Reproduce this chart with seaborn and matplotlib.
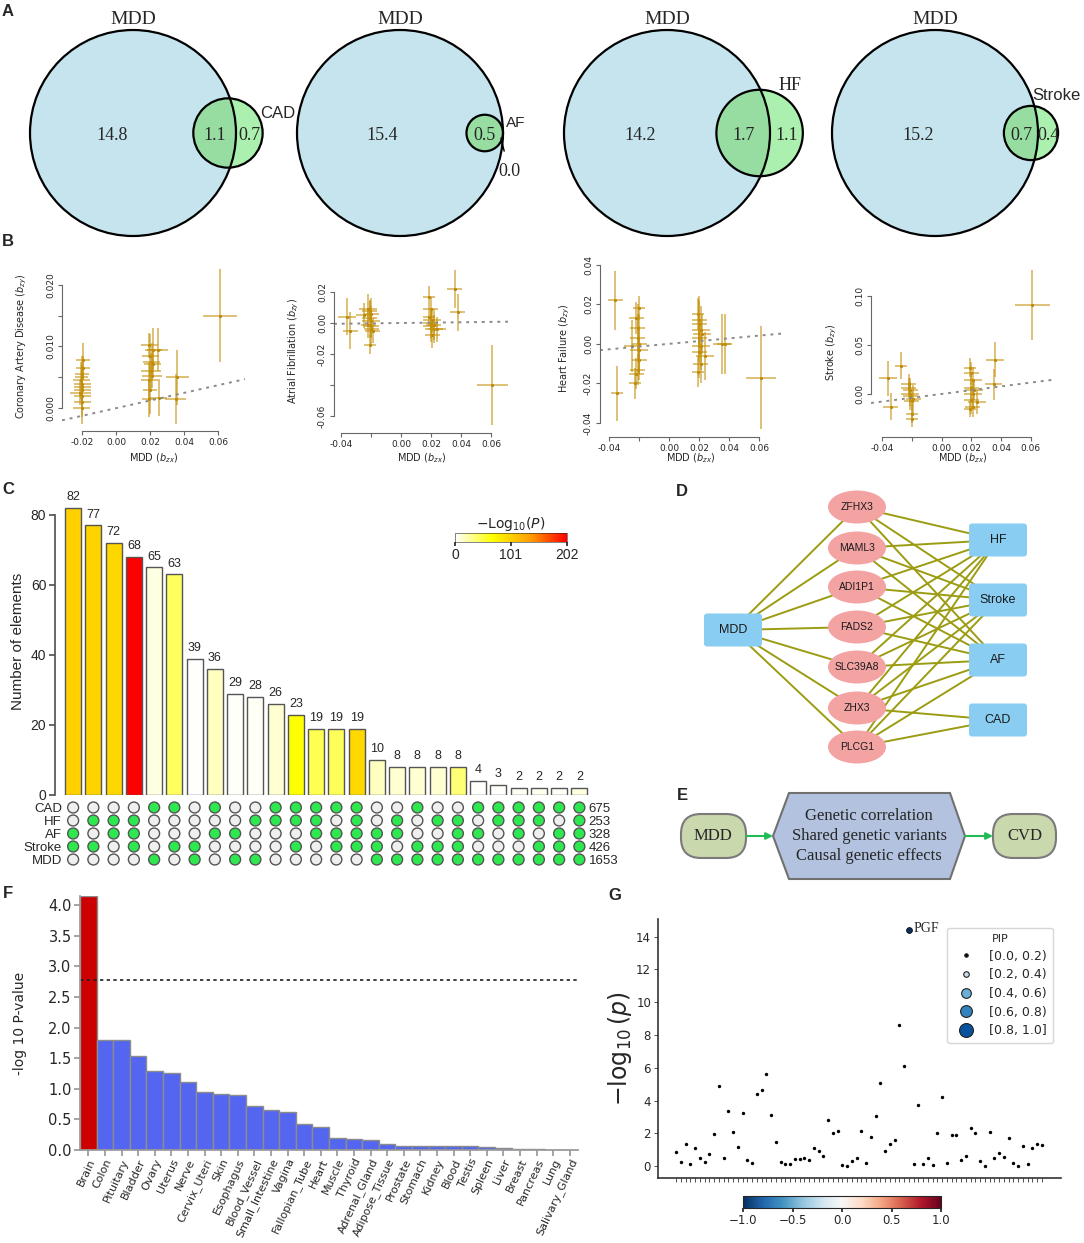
import numpy as np
import pandas as pd
import matplotlib
matplotlib.use('Agg')
import matplotlib as mpl
import matplotlib.pyplot as plt
import seaborn as sns
from matplotlib.patches import Circle, Ellipse, FancyBboxPatch, Polygon
from matplotlib.lines import Line2D
from matplotlib.colors import LinearSegmentedColormap, Normalize

# ---------------- data ----------------
# A: Venn region sizes
venn_other = ['CAD', 'AF', 'HF', 'Stroke']
venn_mdd_only = [14.8, 15.4, 14.2, 15.2]
venn_shared = [1.1, 0.5, 1.7, 0.7]
venn_other_only = [0.7, 0.0, 1.1, 0.4]

# B: MR instruments, columns bzx, bzy, se_x, se_y
mr_cad = [
    [-0.0205, 0.0045, 0.005, 0.0030], [-0.0200, 0.0040, 0.005, 0.0025],
    [-0.0195, 0.0078, 0.004, 0.0028], [-0.0210, 0.0025, 0.006, 0.0020],
    [-0.0200, 0.0055, 0.004, 0.0030], [-0.0200, 0.0010, 0.005, 0.0025],
    [-0.0198, 0.0030, 0.005, 0.0020], [-0.0200, 0.0020, 0.005, 0.0020],
    [-0.0203, 0.0050, 0.004, 0.0020], [-0.0200, 0.0035, 0.005, 0.0025],
    [-0.0196, 0.0065, 0.004, 0.0020], [-0.0202, 0.0000, 0.005, 0.0025],
    [0.0195, 0.0102, 0.005, 0.0020], [0.0200, 0.0085, 0.005, 0.0035],
    [0.0210, 0.0075, 0.005, 0.0030], [0.0205, 0.0060, 0.006, 0.0030],
    [0.0195, 0.0045, 0.005, 0.0030], [0.0200, 0.0030, 0.004, 0.0040],
    [0.0195, 0.0015, 0.004, 0.0030], [0.0220, 0.0095, 0.005, 0.0035],
    [0.0215, 0.0072, 0.005, 0.0020], [0.0250, 0.0017, 0.005, 0.0030],
    [0.0245, 0.0095, 0.006, 0.0035], [0.0210, 0.0052, 0.006, 0.0020],
    [0.0360, 0.0050, 0.0068, 0.0045], [0.0350, 0.0015, 0.0060, 0.0040],
    [0.0610, 0.0150, 0.0100, 0.0075],
]
mr_af = [
    [-0.0360, 0.0040, 0.006, 0.012], [-0.0340, -0.0050, 0.005, 0.012],
    [-0.0250, 0.0050, 0.005, 0.008], [-0.0220, 0.0090, 0.006, 0.010],
    [-0.0210, 0.0030, 0.005, 0.012], [-0.0200, -0.0020, 0.005, 0.008],
    [-0.0210, 0.0080, 0.005, 0.006], [-0.0200, -0.0040, 0.005, 0.010],
    [-0.0210, -0.0140, 0.004, 0.006], [-0.0200, 0.0010, 0.006, 0.010],
    [-0.0190, -0.0050, 0.005, 0.008], [-0.0220, -0.0010, 0.005, 0.009],
    [-0.0200, 0.0060, 0.005, 0.010],
    [0.0190, 0.0170, 0.004, 0.007], [0.0200, 0.0090, 0.005, 0.008],
    [0.0210, 0.0020, 0.006, 0.008], [0.0200, -0.0020, 0.005, 0.010],
    [0.0220, -0.0040, 0.006, 0.009], [0.0200, 0.0000, 0.005, 0.010],
    [0.0210, -0.0080, 0.005, 0.008], [0.0240, -0.0040, 0.006, 0.008],
    [0.0220, -0.0010, 0.005, 0.010], [0.0190, 0.0040, 0.004, 0.006],
    [0.0360, 0.0220, 0.005, 0.012], [0.0380, 0.0070, 0.005, 0.012],
    [0.0610, -0.0400, 0.0105, 0.026],
]
mr_hf = [
    [-0.0360, 0.0220, 0.005, 0.015], [-0.0350, -0.0250, 0.004, 0.014],
    [-0.0250, -0.0010, 0.005, 0.013], [-0.0230, -0.0200, 0.004, 0.008],
    [-0.0220, 0.0130, 0.005, 0.008], [-0.0210, 0.0080, 0.005, 0.012],
    [-0.0210, 0.0030, 0.005, 0.012], [-0.0200, -0.0030, 0.006, 0.012],
    [-0.0200, -0.0080, 0.005, 0.010], [-0.0210, -0.0130, 0.005, 0.008],
    [-0.0200, 0.0000, 0.005, 0.015], [-0.0220, -0.0150, 0.005, 0.008],
    [-0.0200, 0.0180, 0.004, 0.006],
    [0.0190, 0.0150, 0.004, 0.008], [0.0200, 0.0100, 0.005, 0.012],
    [0.0210, 0.0070, 0.006, 0.012], [0.0200, 0.0030, 0.005, 0.012],
    [0.0210, -0.0010, 0.006, 0.012], [0.0200, -0.0040, 0.005, 0.013],
    [0.0210, -0.0100, 0.005, 0.010], [0.0240, -0.0060, 0.006, 0.012],
    [0.0220, 0.0050, 0.006, 0.010], [0.0190, -0.0140, 0.004, 0.008],
    [0.0200, 0.0120, 0.005, 0.012],
    [0.0350, 0.0000, 0.006, 0.015], [0.0370, 0.0000, 0.005, 0.015],
    [0.0610, -0.0170, 0.0100, 0.026],
]
mr_stroke = [
    [-0.0360, 0.0160, 0.006, 0.018], [-0.0340, -0.0130, 0.005, 0.014],
    [-0.0270, 0.0290, 0.004, 0.014], [-0.0220, 0.0100, 0.005, 0.010],
    [-0.0210, 0.0040, 0.005, 0.012], [-0.0210, -0.0020, 0.005, 0.014],
    [-0.0200, -0.0070, 0.005, 0.010], [-0.0200, -0.0200, 0.004, 0.010],
    [-0.0200, -0.0260, 0.004, 0.008], [-0.0210, 0.0000, 0.006, 0.012],
    [-0.0190, -0.0050, 0.005, 0.014], [-0.0220, 0.0060, 0.005, 0.010],
    [0.0190, 0.0270, 0.004, 0.010], [0.0200, 0.0210, 0.005, 0.012],
    [0.0210, 0.0140, 0.006, 0.014], [0.0200, 0.0060, 0.005, 0.014],
    [0.0210, 0.0000, 0.006, 0.014], [0.0200, -0.0060, 0.005, 0.014],
    [0.0210, -0.0130, 0.005, 0.010], [0.0240, -0.0080, 0.006, 0.012],
    [0.0220, 0.0040, 0.006, 0.010], [0.0190, -0.0150, 0.004, 0.008],
    [0.0360, 0.0350, 0.006, 0.018], [0.0350, 0.0100, 0.006, 0.016],
    [0.0610, 0.0910, 0.0118, 0.036],
]
mr_ivw_slope = [0.062, 0.012, 0.069, 0.194]
mr_outcomes = ['Coronary Artery Disease', 'Atrial Fibrillation', 'Heart Failure', 'Stroke']

# C: UpSet intersections
upset_counts = [82, 77, 72, 68, 65, 63, 39, 36, 29, 28, 26, 23, 19, 19, 19,
                10, 8, 8, 8, 8, 4, 3, 2, 2, 2, 2]
upset_logp = [100, 98, 96, 202, 8, 42, 1, 17, 2, 3, 12, 67, 46, 44, 95,
              17, 12, 12, 12, 37, 1, 1, 3, 4, 3, 8]
upset_sets = ['CAD', 'HF', 'AF', 'Stroke', 'MDD']
upset_set_sizes = [675, 253, 328, 426, 1653]
upset_members = ['00001101001111100100111111',
                 '01110000011110101011011101',
                 '10110001100011111001101011',
                 '11010110000101110111000111',
                 '00001010110000011111111111']

# D: network
net_genes = ['ZFHX3', 'MAML3', 'ADI1P1', 'FADS2', 'SLC39A8', 'ZHX3', 'PLCG1']
net_traits = ['HF', 'Stroke', 'AF', 'CAD']
net_links = [('ZFHX3', 'HF'), ('ZFHX3', 'Stroke'), ('ZFHX3', 'AF'),
             ('MAML3', 'HF'), ('MAML3', 'Stroke'), ('MAML3', 'AF'),
             ('ADI1P1', 'HF'), ('ADI1P1', 'Stroke'), ('ADI1P1', 'AF'),
             ('FADS2', 'HF'), ('FADS2', 'Stroke'), ('FADS2', 'AF'),
             ('SLC39A8', 'HF'), ('SLC39A8', 'Stroke'), ('SLC39A8', 'AF'),
             ('ZHX3', 'HF'), ('ZHX3', 'Stroke'), ('ZHX3', 'AF'), ('ZHX3', 'CAD'),
             ('PLCG1', 'HF'), ('PLCG1', 'Stroke'), ('PLCG1', 'AF'), ('PLCG1', 'CAD')]

# E: flow text
flow_steps = ['Genetic correlation', 'Shared genetic variants', 'Causal genetic effects']

# F: tissue enrichment
f_tissues = ['Brain', 'Colon', 'Pituitary', 'Bladder', 'Ovary', 'Uterus', 'Nerve',
             'Cervix_Uteri', 'Skin', 'Esophagus', 'Blood_Vessel', 'Small_Intestine',
             'Vagina', 'Fallopian_Tube', 'Heart', 'Muscle', 'Thyroid', 'Adrenal_Gland',
             'Adipose_Tissue', 'Prostate', 'Stomach', 'Kidney', 'Blood', 'Testis',
             'Spleen', 'Liver', 'Breast', 'Pancreas', 'Lung', 'Salivary_Gland']
f_logp = [4.15, 1.80, 1.80, 1.53, 1.29, 1.26, 1.11, 0.95, 0.92, 0.90, 0.72, 0.65,
          0.62, 0.43, 0.37, 0.20, 0.18, 0.16, 0.10, 0.07, 0.06, 0.06, 0.06, 0.06,
          0.05, 0.03, 0.02, 0.01, 0.005, 0.003]
f_threshold = 2.78

# G: fine-mapping
g_logp = [0.83, 0.22, 1.34, 0.12, 1.10, 0.51, 0.26, 0.73, 1.93, 4.91, 0.47, 3.34,
          2.10, 1.14, 3.24, 0.35, 0.20, 4.42, 4.62, 5.62, 3.10, 1.45, 0.22, 0.14,
          0.12, 0.43, 0.43, 0.47, 0.37, 1.10, 0.94, 0.61, 2.83, 2.00, 2.16, 0.04,
          0.00, 0.33, 0.47, 2.14, 0.18, 1.79, 3.08, 5.09, 0.94, 1.34, 1.57, 8.64,
          6.13, 14.42, 0.10, 3.73, 0.14, 0.49, 0.08, 2.00, 4.22, 0.20, 1.87, 1.87,
          0.35, 0.61, 2.30, 2.04, 0.31, 0.02, 2.06, 0.49, 0.81, 0.53, 1.69, 0.16,
          0.02, 1.22, 0.10, 1.12, 1.32, 1.30]
g_top_gene = 'PGF'
pip_bins = ['[0.0, 0.2)', '[0.2, 0.4)', '[0.4, 0.6)', '[0.6, 0.8)', '[0.8, 1.0]']

# ---------------- figure ----------------
sns.set_theme(style='white')
plt.rcParams['font.family'] = ['DejaVu Sans']
SANS = 'Liberation Sans'
SERIF = 'Liberation Serif'

W, H = 1084, 1243
fig = plt.figure(figsize=(W / 100, H / 100), dpi=100)


def px_axes(l, t, r, b):
    return fig.add_axes([l / W, 1 - b / H, (r - l) / W, (b - t) / H])


def lens_area(r1, r2, d):
    if d >= r1 + r2:
        return 0.0
    if d <= abs(r1 - r2):
        return np.pi * min(r1, r2) ** 2
    a1 = r1 ** 2 * np.arccos((d * d + r1 * r1 - r2 * r2) / (2 * d * r1))
    a2 = r2 ** 2 * np.arccos((d * d + r2 * r2 - r1 * r1) / (2 * d * r2))
    a3 = 0.5 * np.sqrt((-d + r1 + r2) * (d + r1 - r2) * (d - r1 + r2) * (d + r1 + r2))
    return a1 + a2 - a3


# panel letters
for lab, x, y in [('A', 8, 12), ('B', 8, 242), ('C', 8, 490), ('D', 682, 492),
                  ('E', 682, 795), ('F', 8, 893), ('G', 615, 895)]:
    fig.text(x / W, 1 - y / H, lab, fontsize=12, fontweight='bold', family=SANS,
             ha='center', va='center')

# ---- A: Venn diagrams ----
axA = px_axes(0, 0, W, 238)
axA.set_xlim(0, W)
axA.set_ylim(238, 0)
axA.axis('off')
k = 103 / np.sqrt(venn_mdd_only[0] + venn_shared[0])
big_cx = [133, 400, 667, 935]
cy = 133
set_lab = [(50, -20, SANS, 12), (31, -10, SANS, 11), (30, -48, SERIF, 13), (25, -38, SANS, 12)]
for i, name in enumerate(venn_other):
    r1 = k * np.sqrt(venn_mdd_only[i] + venn_shared[i])
    r2 = k * np.sqrt(venn_other_only[i] + venn_shared[i])
    target = np.pi * k ** 2 * venn_shared[i]
    lo, hi = 0.0, r1 + r2
    for _ in range(60):
        mid = 0.5 * (lo + hi)
        if lens_area(r1, r2, mid) >= target - 1e-9:
            lo = mid
        else:
            hi = mid
    c1 = (big_cx[i], cy)
    c2 = (big_cx[i] + lo, cy)
    big = Circle(c1, r1, fc='#c6e4ee', ec='none')
    axA.add_patch(big)
    axA.add_patch(Circle(c2, r2, fc='#abf0ae', ec='none'))
    inner = Circle(c2, r2, fc='#97dda2', ec='none')
    axA.add_patch(inner)
    inner.set_clip_path(big)
    axA.add_patch(Circle(c1, r1, fc='none', ec='black', lw=1.6))
    axA.add_patch(Circle(c2, r2, fc='none', ec='black', lw=1.6))
    left1, right1 = c1[0] - r1, c1[0] + r1
    left2, right2 = c2[0] - r2, c2[0] + r2
    tk = dict(ha='center', va='center', fontsize=13, family=SERIF)
    axA.text((left1 + left2) / 2, cy + 2, f'{venn_mdd_only[i]:.1f}', **tk)
    axA.text((left2 + right1) / 2, cy + 2, f'{venn_shared[i]:.1f}', **tk)
    if venn_other_only[i] > 0:
        axA.text((right1 + right2) / 2, cy + 2, f'{venn_other_only[i]:.1f}', **tk)
    else:
        axA.annotate(f'{venn_other_only[i]:.1f}', xy=(right2 - 2, cy + 5),
                     xytext=(right2 + 6, cy + 38), ha='center', va='center',
                     fontsize=13, family=SERIF,
                     arrowprops=dict(arrowstyle='-', color='black', lw=1,
                                     shrinkA=6, shrinkB=0))
    axA.text(c1[0], c1[1] - r1 - 2, 'MDD', ha='center', va='bottom', fontsize=14, family=SERIF)
    dx, dy, fam, fs = set_lab[i]
    axA.text(c2[0] + dx, cy + dy, name, ha='center', va='center', fontsize=fs, family=fam)

# ---- B: MR scatter plots ----
mr_sets = [mr_cad, mr_af, mr_hf, mr_stroke]
mr_boxes = [(62, 262, 245, 431), (334, 268, 510, 433), (600, 260, 782, 437), (871, 268, 1055, 437)]
mr_xlims = [(-0.0318, 0.0759), (-0.0447, 0.0727), (-0.046, 0.0753), (-0.0474, 0.0763)]
mr_ylims = [(-0.0037, 0.0237), (-0.071, 0.0355), (-0.047, 0.0423), (-0.0439, 0.1286)]
mr_xticks = [[-0.02, 0.0, 0.02, 0.04, 0.06], [-0.04, -0.02, 0.0, 0.02, 0.04, 0.06],
             [-0.04, -0.02, 0.0, 0.02, 0.04, 0.06], [-0.04, -0.02, 0.0, 0.02, 0.04, 0.06]]
mr_xtl = [['-0.02', '0.00', '0.02', '0.04', '0.06'],
          ['-0.04', '', '0.00', '0.02', '0.04', '0.06'],
          ['-0.04', '', '0.00', '0.02', '0.04', '0.06'],
          ['-0.04', '', '0.00', '0.02', '0.04', '0.06']]
mr_yticks = [[0.0, 0.005, 0.01, 0.015, 0.02], [-0.06, -0.04, -0.02, 0.0, 0.02],
             [-0.04, -0.02, 0.0, 0.02, 0.04], [0.0, 0.05, 0.10]]
mr_ytl = [['0.000', '', '0.010', '', '0.020'], ['-0.06', '', '-0.02', '0.00', '0.02'],
          ['-0.04', '-0.02', '0.00', '0.02', '0.04'], ['0.00', '0.05', '0.10']]
mr_ylab_x = [22, 294, 565, 832]
for i in range(4):
    l, t, r, b = mr_boxes[i]
    ax = px_axes(l, t, r, b)
    d = pd.DataFrame(mr_sets[i], columns=['bzx', 'bzy', 'se_x', 'se_y'])
    ax.errorbar(d['bzx'], d['bzy'], xerr=d['se_x'], yerr=d['se_y'], fmt='none',
                ecolor='#c4900a', alpha=0.6, elinewidth=1.3)
    sns.scatterplot(data=d, x='bzx', y='bzy', ax=ax, color='#a87a00', s=5,
                    linewidth=0, legend=False)
    xs = np.array(mr_xlims[i])
    ax.plot(xs, mr_ivw_slope[i] * xs, ls=(0, (1.5, 2.5)), color='#8a8a8a', lw=1.4)
    ax.set_xlim(mr_xlims[i])
    ax.set_ylim(mr_ylims[i])
    ax.set_xticks(mr_xticks[i])
    ax.set_xticklabels(mr_xtl[i])
    ax.set_yticks(mr_yticks[i])
    ax.set_yticklabels(mr_ytl[i], rotation=90, va='center')
    ax.set_facecolor('none')
    for s in ['top', 'right']:
        ax.spines[s].set_visible(False)
    for s in ['left', 'bottom']:
        ax.spines[s].set_color('#666666')
        ax.spines[s].set_linewidth(0.8)
    ax.spines['bottom'].set_bounds(mr_xticks[i][0], mr_xticks[i][-1])
    ax.spines['left'].set_bounds(mr_yticks[i][0], mr_yticks[i][-1])
    ax.tick_params(direction='out', length=3, width=0.8, color='#666666',
                   labelsize=6.5, pad=2, bottom=True, left=True)
    ax.set_xlabel(r'MDD ($b_{zx}$)', fontsize=7)
    ax.set_ylabel(mr_outcomes[i] + r' ($b_{zy}$)', fontsize=7)
    ax.xaxis.set_label_coords(0.5, (b - 458) / (b - t))
    ax.xaxis.label.set_va('center')
    ax.yaxis.set_label_coords((mr_ylab_x[i] - l) / (r - l), 0.5)
    ax.yaxis.label.set_va('center')

# ---- C: UpSet plot ----
n_int = len(upset_counts)
cmap_c = LinearSegmentedColormap.from_list('wyr', ['#ffffff', '#ffff00', '#ffa000', '#ff0000'])
norm_c = Normalize(0, 202)
int_names = [f'I{j}' for j in range(n_int)]
dfc = pd.DataFrame({'name': int_names, 'count': upset_counts})
pal_c = {nm: cmap_c(norm_c(v)) for nm, v in zip(int_names, upset_logp)}
axC = px_axes(63, 487, 589.5, 795)
sns.barplot(data=dfc, x='name', y='count', hue='name', palette=pal_c, legend=False,
            width=0.8, edgecolor='#555555', linewidth=1, saturation=1, ax=axC)
for j, c in enumerate(upset_counts):
    axC.text(j, c + 1.3, str(c), ha='center', va='bottom', fontsize=9, family=SANS)
axC.set_xlim(-0.5, n_int - 0.5)
axC.set_ylim(0, 88)
axC.set_xticks([])
axC.set_yticks([0, 20, 40, 60, 80])
axC.set_xlabel('')
axC.set_ylabel('Number of elements', fontsize=11, family=SANS)
axC.yaxis.set_label_coords((18 - 63) / 526.5, 0.5)
axC.yaxis.label.set_va('center')
for s in ['top', 'right', 'bottom']:
    axC.spines[s].set_visible(False)
axC.spines['left'].set_position(('outward', 6))
axC.spines['left'].set_bounds(0, 80)
axC.spines['left'].set_color('#555555')
axC.tick_params(axis='y', direction='out', length=4, color='#555555', labelsize=10,
                left=True, pad=2)
for tl in axC.get_yticklabels():
    tl.set_family(SANS)
axC.set_facecolor('none')

# matrix
rows = []
for si, sname in enumerate(upset_sets):
    for j in range(n_int):
        rows.append({'pos': j, 'row': si, 'member': upset_members[si][j] == '1'})
dfm = pd.DataFrame(rows)
axM = px_axes(63, 801, 589.5, 866)
sns.scatterplot(data=dfm, x='pos', y='row', hue='member',
                palette={True: '#2ee84f', False: '#efefef'}, s=62, edgecolor='#555555',
                linewidth=1, legend=False, ax=axM)
axM.set_xlim(-0.5, n_int - 0.5)
axM.set_ylim(4.5, -0.5)
axM.axis('off')
for si, sname in enumerate(upset_sets):
    axM.text(-0.55, si + 0.1, sname, ha='right', va='center', fontsize=9.5, family=SANS)
    axM.text(n_int - 0.55, si + 0.1, str(upset_set_sizes[si]), ha='left', va='center',
             fontsize=9.5, family=SANS)

caxC = px_axes(455, 533, 567, 542)
cbC = mpl.colorbar.ColorbarBase(caxC, cmap=cmap_c, norm=norm_c, orientation='horizontal',
                                ticks=[0, 101, 202])
cbC.outline.set_linewidth(0.4)
caxC.tick_params(labelsize=10, length=3, pad=1)
for tl in caxC.get_xticklabels():
    tl.set_family(SANS)
caxC.set_title(r'$-\mathrm{Log}_{10}(P)$', fontsize=10, pad=3)

# ---- D: network ----
axD = px_axes(640, 485, 1084, 785)
axD.set_xlim(640, 1084)
axD.set_ylim(785, 485)
axD.axis('off')
gene_y = [507, 548, 587, 627, 667, 708, 747]
trait_y = [540, 600, 660, 720]
node_xy = {'MDD': (733, 630)}
for g, y in zip(net_genes, gene_y):
    node_xy[g] = (857, y)
for tname, y in zip(net_traits, trait_y):
    node_xy[tname] = (998, y)
edge_col = '#9c9c12'
for g in net_genes:
    (x0, y0), (x1, y1) = node_xy['MDD'], node_xy[g]
    axD.plot([x0, x1], [y0, y1], color=edge_col, lw=1.4, zorder=1)
for g, tname in net_links:
    (x0, y0), (x1, y1) = node_xy[g], node_xy[tname]
    axD.plot([x0, x1], [y0, y1], color=edge_col, lw=1.4, zorder=1)
for name in ['MDD'] + net_traits:
    x, y = node_xy[name]
    axD.add_patch(FancyBboxPatch((x - 26, y - 13.5), 52, 27,
                                 boxstyle='round,pad=3', fc='#89cef2', ec='none', zorder=3))
    axD.text(x, y, name, ha='center', va='center', fontsize=9, family=SANS,
             color='#1a1a1a', zorder=4)
for g in net_genes:
    x, y = node_xy[g]
    axD.add_patch(Ellipse((x, y), 58, 33, fc='#f4a3a3', ec='none', zorder=3))
    axD.text(x, y, g, ha='center', va='center', fontsize=7.5, family=SANS,
             color='#1a1a1a', zorder=4)

# ---- E: flow ----
axE = px_axes(640, 785, 1084, 882)
axE.set_xlim(640, 1084)
axE.set_ylim(882, 785)
axE.axis('off')
axE.add_patch(FancyBboxPatch((681, 814), 65, 44, boxstyle='round,pad=0,rounding_size=20',
                             fc='#cad8ad', ec='#7a7a7a', lw=1.5))
axE.add_patch(FancyBboxPatch((993, 814), 63, 44, boxstyle='round,pad=0,rounding_size=20',
                             fc='#cad8ad', ec='#7a7a7a', lw=1.5))
axE.add_patch(Polygon([(773, 836), (789, 793), (950, 793), (965, 836), (950, 879), (789, 879)],
                      closed=True, fc='#b3c3df', ec='#707070', lw=1.5))
axE.text(713, 836, 'MDD', ha='center', va='center', fontsize=12, family=SERIF)
axE.text(1025, 836, 'CVD', ha='center', va='center', fontsize=12, family=SERIF)
for j, s in enumerate(flow_steps):
    axE.text(869, 816 + 20 * j, s, ha='center', va='center', fontsize=12, family=SERIF)
for xa, xb in [(746, 773), (965, 993)]:
    axE.annotate('', xy=(xb, 836), xytext=(xa, 836),
                 arrowprops=dict(arrowstyle='-|>', color='#22bb55', lw=1.5,
                                 mutation_scale=10, shrinkA=0, shrinkB=0))

# ---- F: tissue bars ----
axF = px_axes(80, 896, 578, 1150)
dff = pd.DataFrame({'tissue': f_tissues, 'logp': f_logp})
pal_f = {t: ('#cc0000' if v > f_threshold else '#5466f0') for t, v in zip(f_tissues, f_logp)}
sns.barplot(data=dff, x='tissue', y='logp', hue='tissue', palette=pal_f, legend=False,
            width=1.0, edgecolor='#8c8c8c', linewidth=1, saturation=1, ax=axF)
axF.axhline(f_threshold, ls=(0, (2, 2)), color='#222222', lw=1.2)
axF.set_xlim(-0.5, len(f_tissues) - 0.5)
axF.set_ylim(0, 4.15)
axF.set_yticks(np.arange(0, 4.01, 0.5))
axF.set_xticks(range(len(f_tissues)))
axF.set_xticklabels(f_tissues, rotation=65, ha='right', rotation_mode='anchor', fontsize=8)
axF.set_xlabel('')
axF.set_ylabel('-log 10 P-value', fontsize=10)
axF.yaxis.set_label_coords((20 - 80) / 498, 0.5)
axF.yaxis.label.set_va('center')
for s in ['top', 'right']:
    axF.spines[s].set_visible(False)
for s in ['left', 'bottom']:
    axF.spines[s].set_color('#999999')
axF.tick_params(direction='out', length=4, color='#999999', labelsize=10.5,
                left=True, bottom=True, pad=2)
axF.tick_params(axis='x', labelsize=8, pad=1)

# ---- G: fine-mapping scatter ----
axG = px_axes(658, 919, 1061, 1178)
idx = np.arange(len(g_logp))
dfg = pd.DataFrame({'idx': idx, 'logp': g_logp})
top = int(np.argmax(g_logp))
sns.scatterplot(data=dfg.drop(index=top), x='idx', y='logp', color='black', s=6,
                linewidth=0, legend=False, ax=axG)
sns.scatterplot(data=dfg.loc[[top]], x='idx', y='logp', color='#0c2c5e', s=18,
                edgecolor='black', linewidth=0.5, legend=False, ax=axG)
axG.text(top + 0.9, g_logp[top] + 0.1, g_top_gene, ha='left', va='center',
         fontsize=10, family=SERIF)
axG.set_xlim(-3.8, 81)
axG.set_ylim(-0.73, 15.08)
axG.set_xticks(idx)
axG.set_xticklabels([''] * len(idx))
axG.set_yticks(range(0, 15, 2))
axG.set_xlabel('')
axG.set_ylabel(r'$-\log_{10}(p)$', fontsize=17)
axG.yaxis.set_label_coords((620 - 658) / 403, 0.5)
axG.yaxis.label.set_va('center')
for s in ['top', 'right']:
    axG.spines[s].set_visible(False)
for s in ['left', 'bottom']:
    axG.spines[s].set_color('#333333')
    axG.spines[s].set_linewidth(1.2)
axG.tick_params(direction='out', length=3, width=0.6, color='#333333', labelsize=8.5,
                left=True, bottom=True, pad=2)
pip_sizes = [2.5, 4, 7, 8.5, 10]
pip_cols = ['black', '#c6dbef', '#6baed6', '#3182bd', '#08519c']
handles = [Line2D([], [], ls='', marker='o', markersize=ms, mfc=c, mec='#222222', mew=0.8)
           for ms, c in zip(pip_sizes, pip_cols)]
leg = axG.legend(handles, pip_bins, title='PIP', loc='upper right',
                 bbox_to_anchor=(0.995, 0.99), fontsize=9, title_fontsize=8,
                 frameon=True, labelspacing=0.45, handletextpad=0.8, borderpad=0.5)
leg.get_frame().set_edgecolor('#cccccc')

caxG = px_axes(743, 1196, 941, 1208)
cbG = mpl.colorbar.ColorbarBase(caxG, cmap='RdBu_r', norm=Normalize(-1, 1),
                                orientation='horizontal', ticks=[-1, -0.5, 0, 0.5, 1])
cbG.outline.set_linewidth(0.8)
caxG.tick_params(labelsize=8.5, length=3, pad=1)

fig.savefig('out.png', dpi=100)
